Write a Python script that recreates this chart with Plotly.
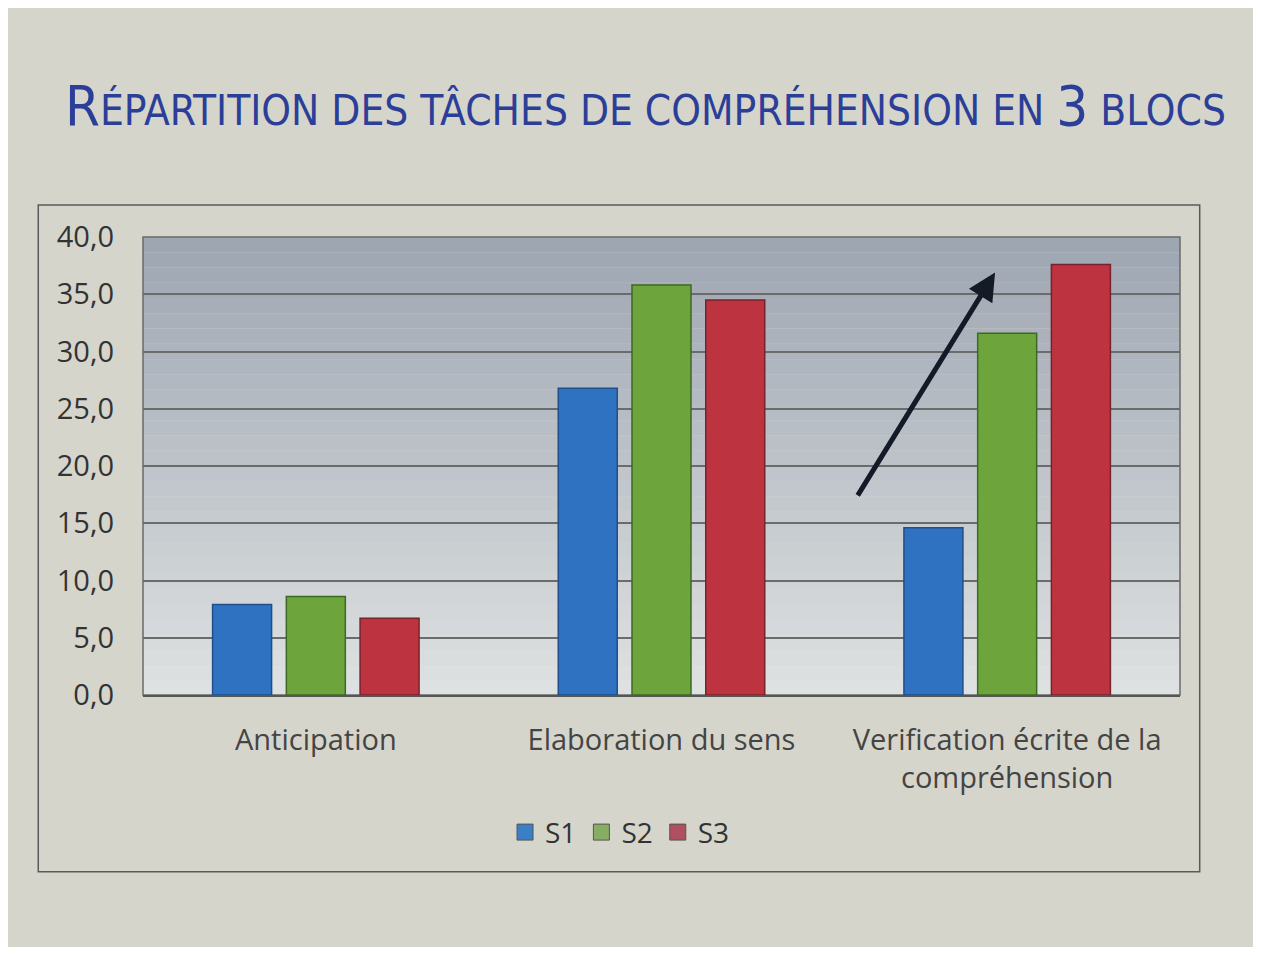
import plotly.graph_objects as go

categories = ["Anticipation", "Elaboration du sens", "Verification écrite de la<br>compréhension"]
series_names = ["S1", "S2", "S3"]
s1 = [7.9, 26.8, 14.6]
s2 = [8.6, 35.8, 31.6]
s3 = [6.7, 34.5, 37.6]
y_ticks = [0, 5, 10, 15, 20, 25, 30, 35, 40]

fill_colors = ["#2f72c2", "#6da53c", "#bd3440"]
line_colors = ["#1f4f8a", "#3d6a22", "#7a2229"]
legend_colors = ["#3b7fc6", "#86ad62", "#b0505f"]

fig = go.Figure()
for name, vals, fc, lc in zip(series_names, [s1, s2, s3], fill_colors, line_colors):
    fig.add_trace(go.Bar(
        name=name, x=categories, y=vals, showlegend=False,
        marker=dict(color=fc, line=dict(color=lc, width=1.5)),
    ))
for name, lgc in zip(series_names, legend_colors):
    fig.add_trace(go.Scatter(
        name=name, x=[None], y=[None], mode="markers",
        marker=dict(symbol="square", size=19, color=lgc, line=dict(color="#555555", width=1)),
    ))

# gradient background for plot area
shapes = []
n = 30
top = (158, 166, 178)
bot = (222, 225, 225)
for i in range(n):
    t = i / (n - 1)
    c = tuple(int(round(top[k] + (bot[k] - top[k]) * t)) for k in range(3))
    shapes.append(dict(type="rect", xref="paper", yref="paper",
                       x0=0, x1=1, y0=1 - (i + 1) / n, y1=1 - i / n,
                       fillcolor="rgb(%d,%d,%d)" % c, line=dict(width=0), layer="below"))
shapes.append(dict(type="rect", xref="paper", yref="paper", x0=0, x1=1, y0=0, y1=1,
                   line=dict(color="#6a6a6a", width=1.5), layer="below"))
shapes.append(dict(type="rect", xref="paper", yref="paper", x0=-0.101, x1=1.019, y0=-0.386, y1=1.07,
                   line=dict(color="#5a5a5a", width=1.5), layer="below"))

fig.update_layout(
    width=1245, height=939,
    margin=dict(l=135, r=73, t=229, b=252),
    paper_bgcolor="#d6d5cc",
    plot_bgcolor="rgba(0,0,0,0)",
    separators=", ",
    barmode="group",
    bargap=0.36,
    bargroupgap=0.2,
    shapes=shapes,
    title=dict(
        text=("<span style='font-size:56px'>R</span>ÉPARTITION DES TÂCHES DE COMPRÉHENSION EN "
              "<span style='font-size:56px'>3</span> BLOCS"),
        font=dict(family="DejaVu Sans Condensed, sans-serif", size=42, color="#2c3f98"),
        x=0.512, xanchor="center", xref="container", y=0.891, yanchor="middle",
    ),
    font=dict(family="Open Sans, Noto Sans, sans-serif", color="#333333"),
    legend=dict(orientation="h", x=0.46, xanchor="center", y=-0.3, yanchor="middle",
                font=dict(size=28, color="#333333"), bgcolor="rgba(0,0,0,0)",
                itemwidth=30, traceorder="normal"),
    xaxis=dict(showgrid=False, tickfont=dict(size=29, color="#444444"),
               showline=True, linecolor="#555555", linewidth=2,
               ticklabelstandoff=18),
    yaxis=dict(range=[0, 40], tickvals=y_ticks, tickformat=".1f",
               showgrid=True, gridcolor="#6b6b6b", gridwidth=1.5,
               tickfont=dict(size=29, color="#333333"),
               zeroline=False, ticklabelstandoff=28),
    annotations=[dict(
        x=1.965, y=36.9, xref="x", yref="y",
        ax=1.565, ay=17.3, axref="x", ayref="y",
        showarrow=True, arrowhead=2, arrowsize=1.1, arrowwidth=5, arrowcolor="#151a28", text="",
    )],
)

fig.write_html("out.html")
